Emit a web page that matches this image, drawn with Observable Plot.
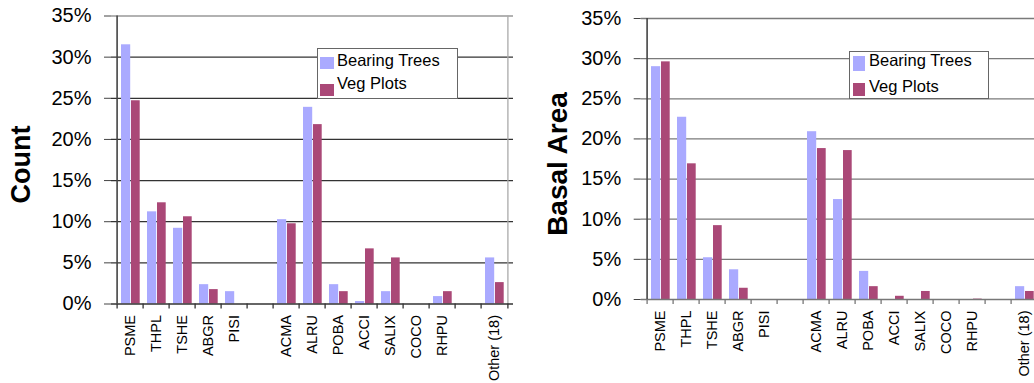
<!DOCTYPE html>
<html>
<head>
<meta charset="utf-8">
<script src="https://cdn.jsdelivr.net/npm/d3@7"></script>
<script src="https://cdn.jsdelivr.net/npm/@observablehq/plot@0.6"></script>
<style>
  html, body { margin: 0; padding: 0; background: #fff; }
  body { width: 1034px; height: 383px; overflow: hidden; position: relative; font-family: "Liberation Sans", Arial, sans-serif; }
  .panel { position: absolute; top: 0; }
  .panel svg { max-width: none !important; }
  .legend { position: absolute; box-sizing: border-box; border: 1px solid #666; background: #fff; }
  .sw { position: absolute; }
  .lt { position: absolute; font-size: 16.5px; line-height: 16.5px; white-space: nowrap; color: #000; }
</style>
</head>
<body>
<div id="left" class="panel" style="left:0px;width:520px"></div>
<div id="right" class="panel" style="left:520px;width:530px"></div>

<div class="legend" style="left:317px;top:48px;width:141px;height:51px"></div>
<div class="sw" id="lsw1" style="left:320px;top:57px;width:14px;height:12px"></div>
<div class="lt" id="llt1" style="left:337px;top:51.5px"></div>
<div class="sw" id="lsw2" style="left:320px;top:83.5px;width:14px;height:12.5px"></div>
<div class="lt" id="llt2" style="left:337px;top:74.5px"></div>

<div class="legend" style="left:849px;top:51px;width:140px;height:48px"></div>
<div class="sw" id="rsw1" style="left:853px;top:56px;width:12px;height:14.5px"></div>
<div class="lt" id="rlt1" style="left:869px;top:51.5px"></div>
<div class="sw" id="rsw2" style="left:853px;top:82.7px;width:12px;height:13.5px"></div>
<div class="lt" id="rlt2" style="left:869px;top:78px"></div>

<script>
// ---- data ----
const categories = ["PSME", "THPL", "TSHE", "ABGR", "PISI", " ", "ACMA", "ALRU", "POBA", "ACCI", "SALIX", "COCO", "RHPU", "  ", "Other (18)"];
const seriesNames = ["Bearing Trees", "Veg Plots"];
const countBearing = [31.5, 11.2, 9.2, 2.35, 1.5, 0, 10.25, 23.9, 2.35, 0.3, 1.5, 0, 0.9, 0, 5.6];
const countVeg     = [24.7, 12.3, 10.6, 1.75, 0, 0, 9.75, 21.8, 1.5, 6.7, 5.6, 0, 1.5, 0, 2.6];
const basalBearing = [29.0, 22.7, 5.2, 3.7, 0, 0, 20.9, 12.45, 3.5, 0, 0, 0, 0, 0, 1.6];
const basalVeg     = [29.6, 16.9, 9.2, 1.4, 0, 0, 18.8, 18.55, 1.6, 0.4, 1.0, 0, 0.05, 0, 1.0];
const yTicks = [0, 5, 10, 15, 20, 25, 30, 35];
const colors = ["#AAAAFF", "#AA4877"];

function chart({bearing, veg, title, titleSize, titleDx, titleDy, width, height, mL, mR, mT, mB, gridColor, topColor, baseColor, axisColor, borderColor}) {
  const rows = categories.map((c, i) => ({cat: c, b: bearing[i], v: veg[i]}));
  const bw = (width - mL - mR) / categories.length;
  const last = categories[categories.length - 1];
  const yMax = yTicks[yTicks.length - 1];
  return Plot.plot({
    width, height,
    marginLeft: mL, marginRight: mR, marginTop: mT, marginBottom: mB,
    style: {fontFamily: "'Liberation Sans', Arial, sans-serif", background: "transparent", overflow: "visible", maxWidth: "none"},
    x: {type: "band", domain: categories, padding: 0, label: null},
    y: {domain: [0, yMax], label: null},
    marks: [
      Plot.ruleY(yTicks.slice(1, -1), {stroke: gridColor, strokeWidth: 1.3}),
      Plot.ruleY([yMax], {stroke: topColor, strokeWidth: 1.3}),
      Plot.ruleX([last], {y1: 0, y2: yMax, dx: bw / 2, stroke: borderColor, strokeWidth: 1.3}),
      Plot.barY(rows, {x: "cat", y: "b", fill: colors[0], insetLeft: 4, insetRight: bw - 14}),
      Plot.barY(rows, {x: "cat", y: "v", fill: colors[1], insetLeft: 14, insetRight: bw - 23.5}),
      Plot.ruleY([0], {stroke: baseColor, strokeWidth: 1.3}),
      Plot.ruleX(categories, {y1: 0, y2: 0, dx: -bw / 2, insetBottom: -5, stroke: baseColor, strokeWidth: 1.3}),
      Plot.ruleX([last], {y1: 0, y2: 0, dx: bw / 2, insetBottom: -5, stroke: baseColor, strokeWidth: 1.3}),
      Plot.ruleX([categories[0]], {y1: 0, y2: yMax, dx: -bw / 2, stroke: axisColor, strokeWidth: 1.6}),
      Plot.axisY({ticks: yTicks, tickFormat: d => d + "%", tickSize: 7, tickPadding: 13, fontSize: 20, stroke: axisColor, label: null}),
      Plot.axisX({tickSize: 0, tickPadding: 11, tickRotate: -90, fontSize: 14.5, label: null}),
      Plot.text([title], {frameAnchor: "left", textAnchor: "middle", dx: titleDx, dy: titleDy, rotate: -90, fontSize: titleSize, fontWeight: "bold", fill: "#000"})
    ]
  });
}

document.getElementById("left").append(chart({
  bearing: countBearing, veg: countVeg, title: "Count", titleSize: 27, titleDx: -90, titleDy: 4.5,
  width: 520, height: 383, mL: 111, mR: 7, mT: 15.5, mB: 79.5,
  gridColor: "#333", topColor: "#999", baseColor: "#333", axisColor: "#444", borderColor: "#aaa"
}));
document.getElementById("right").append(chart({
  bearing: basalBearing, veg: basalVeg, title: "Basal Area", titleSize: 28, titleDx: -83, titleDy: 5,
  width: 530, height: 383, mL: 120.7, mR: 7.3, mT: 18, mB: 84,
  gridColor: "#7a7a7a", topColor: "#7a7a7a", baseColor: "#777", axisColor: "#444", borderColor: "#aaa"
}));

// legends
for (const p of ["l", "r"]) {
  document.getElementById(p + "sw1").style.background = colors[0];
  document.getElementById(p + "sw2").style.background = colors[1];
  document.getElementById(p + "lt1").textContent = seriesNames[0];
  document.getElementById(p + "lt2").textContent = seriesNames[1];
}
</script>
</body>
</html>
